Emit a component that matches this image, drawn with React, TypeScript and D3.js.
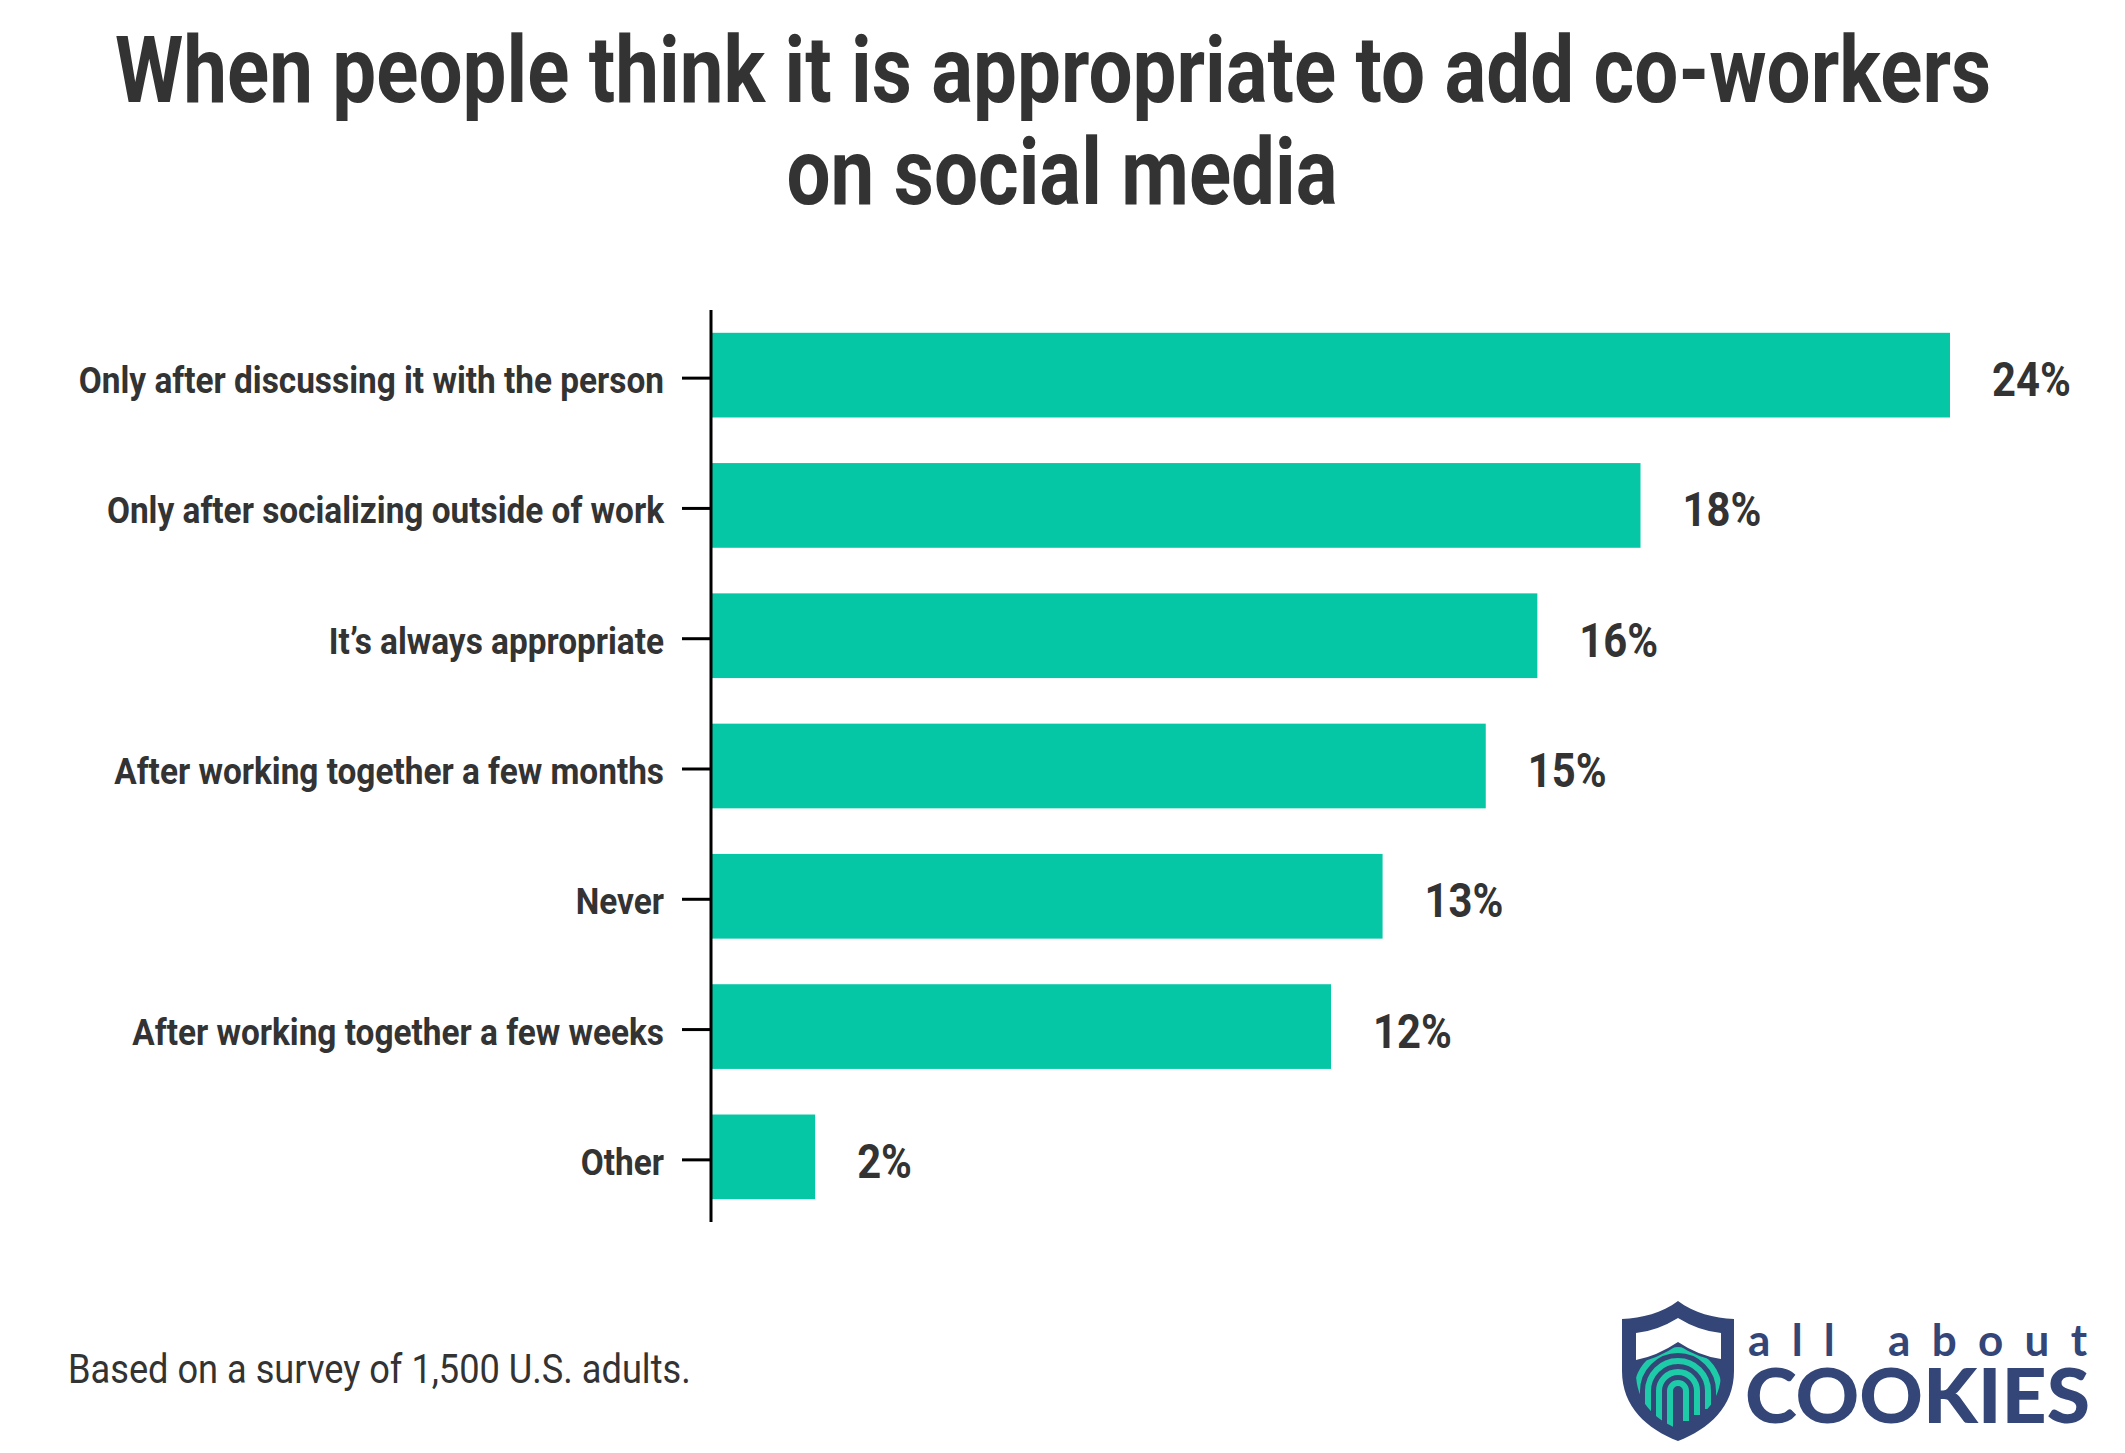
import React from "react";
import * as d3 from "d3";

const titleLines = ["When people think it is appropriate to add co-workers", "on social media"];
const categories = [
  "Only after discussing it with the person",
  "Only after socializing outside of work",
  "It\u2019s always appropriate",
  "After working together a few months",
  "Never",
  "After working together a few weeks",
  "Other",
];
const values = [24, 18, 16, 15, 13, 12, 2];
const footnote = "Based on a survey of 1,500 U.S. adults.";

const W = 2125;
const H = 1453;
const TEXT = "#333333";
const BAR = "#05C7A6";
const NAVY = "#334677";
const TEAL = "#1ECBA8";

export default function App() {
  const x = d3.scaleLinear().domain([0, 24]).range([712, 1950]);
  const y = d3
    .scaleBand<string>()
    .domain(categories)
    .range([310, 1222])
    .paddingInner(0.35)
    .paddingOuter(0.175);
  const bw = y.bandwidth();
  const font = "Roboto, 'Noto Sans', sans-serif";
  const titleCenters = [1053, 1062];

  const condText = (
    txt: string,
    tx: number,
    ty: number,
    size: number,
    weight: number,
    anchor: "start" | "middle" | "end",
    cond: number,
    key?: string | number
  ) => (
    <text
      key={key}
      transform={`translate(${tx},${ty}) scale(${cond},1)`}
      fontFamily={font}
      fontSize={size}
      fontWeight={weight}
      fill={TEXT}
      textAnchor={anchor}
    >
      {txt}
    </text>
  );

  // shield logo
  const lx = 1622;
  const ly = 1301;
  const cx = 56;
  const cy = 90;
  const radii = [8, 19, 30, 41];

  return (
    <svg
      width={W}
      height={H}
      style={{ position: "absolute", left: 0, top: 0, background: "#fff" }}
    >
      <rect width={W} height={H} fill="#fff" />
      {titleLines.map((t, i) =>
        condText(t, titleCenters[i], 102 + i * 102, 93, 700, "middle", 0.84, "t" + i)
      )}

      {categories.map((c, i) => {
        const yc = (y(c) as number) + bw / 2;
        return (
          <g key={c}>
            <rect x={x(0)} y={y(c)} width={x(values[i]) - x(0)} height={bw} fill={BAR} />
            <line x1={682} x2={711} y1={yc + 3} y2={yc + 3} stroke="#000" strokeWidth={3} />
            {condText(c, 664, yc + 18, 37.5, 700, "end", 0.89)}
            {condText(`${values[i]}%`, x(values[i]) + 42, yc + 21, 48, 700, "start", 0.87)}
          </g>
        );
      })}
      <line x1={711} x2={711} y1={310} y2={1222} stroke="#000" strokeWidth={3} />

      {condText(footnote, 68, 1383, 40, 400, "start", 0.905)}

      <g transform={`translate(${lx},${ly})`}>
        <defs>
          <clipPath id="shieldInner">
            <path d="M14,62 Q35,58 56,44 Q77,58 99,60 L99,72 C99,100 80,118 56,128 C32,118 14,100 14,72 Z" />
          </clipPath>
        </defs>
        <path
          d="M56,0 C40,12 20,17 0,18 L0,70 C0,106 25,128 56,140 C87,128 112,106 112,70 L112,18 C92,17 72,12 56,0 Z"
          fill={NAVY}
        />
        <path d="M14,32 Q35,30 56,17 Q77,30 99,32 L99,58 Q77,55 56,41 Q35,55 14,59 Z" fill="#fff" />
        <g clipPath="url(#shieldInner)" fill="none" stroke={TEAL} strokeWidth={6}>
          {radii.map((r, i) => (
            <path
              key={i}
              d={`M${cx - r},${cy + 40 - i * 4} L${cx - r},${cy} A${r},${r} 0 0 1 ${cx + r},${cy} L${cx + r},${cy + 30 - i * 6}`}
            />
          ))}
        </g>
      </g>
      <text
        x={1748}
        y={1356}
        fontFamily="Lato, 'Noto Sans', sans-serif"
        fontSize={44}
        fontWeight={700}
        fill={NAVY}
        textLength={339}
        lengthAdjust="spacing"
      >
        all about
      </text>
      <text
        x={1745}
        y={1423}
        fontFamily="Lato, 'Noto Sans', sans-serif"
        fontSize={76}
        fontWeight={900}
        fill={NAVY}
        textLength={345}
        lengthAdjust="spacingAndGlyphs"
      >
        COOKIES
      </text>
    </svg>
  );
}
